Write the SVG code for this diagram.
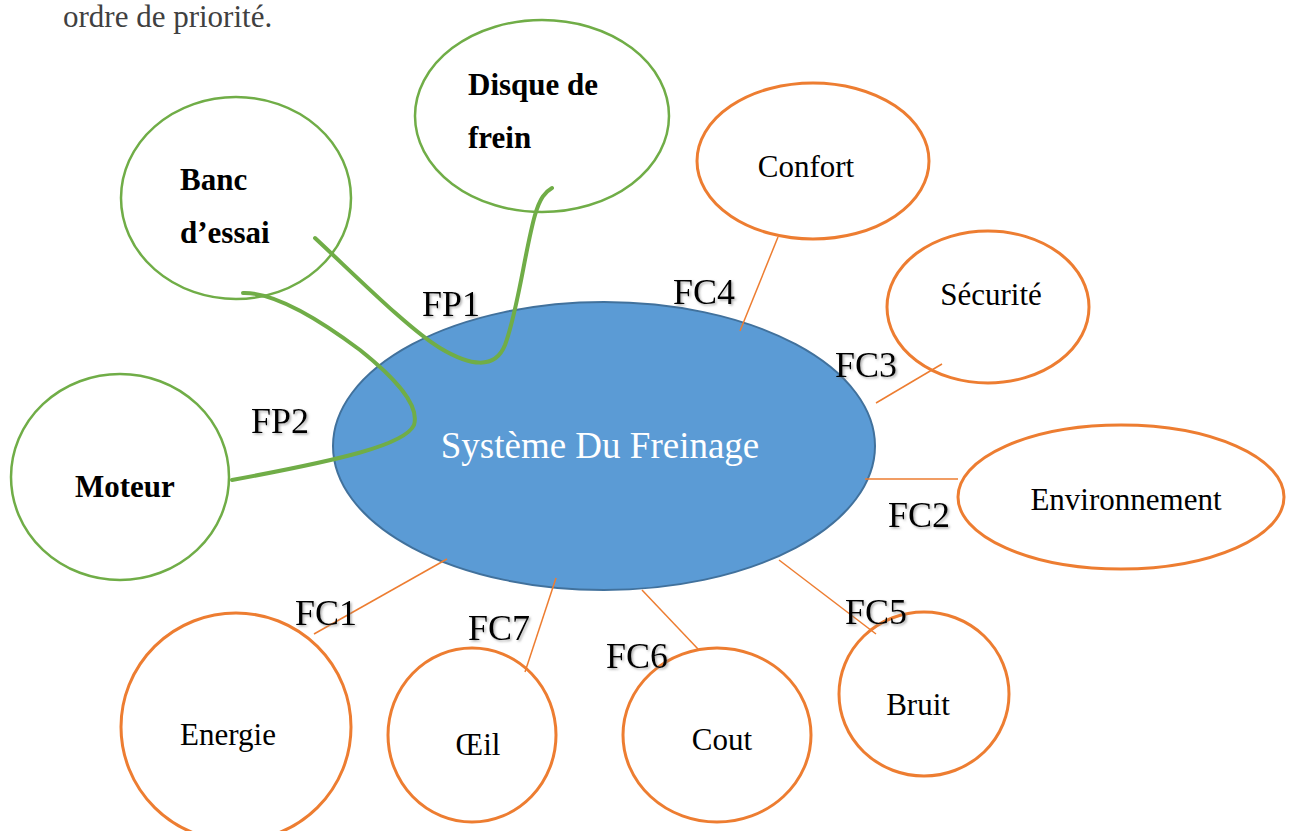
<svg xmlns="http://www.w3.org/2000/svg" width="1293" height="831" viewBox="0 0 1293 831">
<defs>
<style>
.g{fill:#fff;stroke:#70AD47;stroke-width:2.5}
.o{fill:#fff;stroke:#ED7D31;stroke-width:3}
.t{font-family:"Liberation Serif","Times New Roman",serif;font-size:31px;fill:#000}
.b{font-family:"Liberation Serif","Times New Roman",serif;font-size:31px;font-weight:bold;fill:#000}
.lbl{font-family:"Liberation Serif","Times New Roman",serif;font-size:36px;fill:#000;filter:url(#sh)}
.oc{stroke:#ED7D31;stroke-width:1.5;fill:none}
.gc{stroke:#70AD47;stroke-width:4;fill:none;stroke-linecap:round}
</style>
<filter id="sh" x="-20%" y="-20%" width="140%" height="140%">
<feDropShadow dx="1.5" dy="1.5" stdDeviation="1" flood-color="#777" flood-opacity="0.6"/>
</filter>
</defs>
<rect width="1293" height="831" fill="#fff"/>
<text x="63" y="27" font-family="Liberation Serif,Times New Roman,serif" font-size="31" fill="#404040">ordre de priorité.</text>

<g id="systeme">
<ellipse cx="604" cy="446" rx="271" ry="144" fill="#5B9BD5" stroke="#41719C" stroke-width="2"/>
<text x="600" y="458" text-anchor="middle" font-family="Liberation Serif,Times New Roman,serif" font-size="37" fill="#fff">Système Du Freinage</text>
</g>

<g id="disque">
<ellipse class="g" cx="542" cy="116" rx="127" ry="96"/>
<text class="b" x="468" y="95">Disque de</text>
<text class="b" x="468" y="148">frein</text>
</g>
<g id="banc">
<ellipse class="g" cx="236" cy="198" rx="115" ry="101"/>
<text class="b" x="180" y="190">Banc</text>
<text class="b" x="180" y="243">d’essai</text>
</g>
<g id="moteur">
<ellipse class="g" cx="120" cy="477" rx="109" ry="103"/>
<text class="b" x="75" y="497">Moteur</text>
</g>

<g id="confort">
<ellipse class="o" cx="813" cy="161" rx="116" ry="78"/>
<text class="t" x="806" y="177" text-anchor="middle">Confort</text>
</g>
<g id="securite">
<ellipse class="o" cx="988" cy="307" rx="101" ry="76"/>
<text class="t" x="991" y="305" text-anchor="middle">Sécurité</text>
</g>
<g id="environnement">
<ellipse class="o" cx="1121" cy="497" rx="163" ry="72"/>
<text class="t" x="1126" y="510" text-anchor="middle">Environnement</text>
</g>
<g id="bruit">
<ellipse class="o" cx="924" cy="694" rx="85" ry="82"/>
<text class="t" x="918" y="715" text-anchor="middle">Bruit</text>
</g>
<g id="cout">
<ellipse class="o" cx="717" cy="735" rx="94" ry="87"/>
<text class="t" x="722" y="750" text-anchor="middle">Cout</text>
</g>
<g id="oeil">
<ellipse class="o" cx="472" cy="735" rx="84" ry="87"/>
<text class="t" x="478" y="755" text-anchor="middle">Œil</text>
</g>
<g id="energie">
<ellipse class="o" cx="236" cy="727" rx="115" ry="114"/>
<text class="t" x="228" y="745" text-anchor="middle">Energie</text>
</g>

<g id="connectors">
<line class="oc" x1="778" y1="237" x2="740" y2="331"/>
<line class="oc" x1="942" y1="364" x2="876" y2="403"/>
<line class="oc" x1="865" y1="479" x2="958" y2="479"/>
<line class="oc" x1="779" y1="560" x2="876" y2="634"/>
<line class="oc" x1="642" y1="590" x2="698" y2="649"/>
<line class="oc" x1="556" y1="578" x2="525" y2="672"/>
<line class="oc" x1="447" y1="559" x2="314" y2="634"/>
<path class="gc" d="M315,238 C360,280 410,330 440,348 C470,366 495,370 505,345 C518,310 525,250 535,215 C540,198 545,192 552,188"/>
<path class="gc" d="M243,293 C275,292 320,320 360,350 C395,378 420,405 414,425 C405,445 340,460 232,480"/>
</g>

<g id="labels">
<text class="lbl" x="422" y="316">FP1</text>
<text class="lbl" x="251" y="433">FP2</text>
<text class="lbl" x="673" y="304">FC4</text>
<text class="lbl" x="835" y="377">FC3</text>
<text class="lbl" x="888" y="527">FC2</text>
<text class="lbl" x="845" y="624">FC5</text>
<text class="lbl" x="606" y="668">FC6</text>
<text class="lbl" x="468" y="640">FC7</text>
<text class="lbl" x="295" y="625">FC1</text>
</g>
</svg>
